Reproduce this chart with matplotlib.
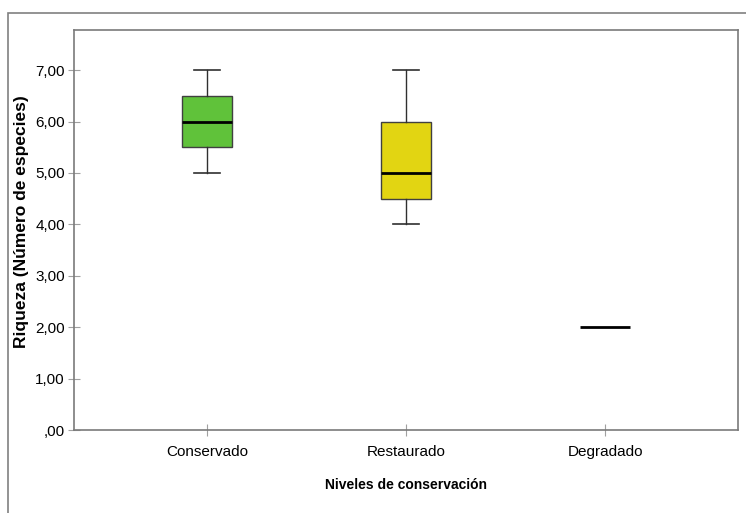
import matplotlib
matplotlib.use("Agg")
import matplotlib.pyplot as plt
from matplotlib.patches import Rectangle

plt.rcParams['font.family'] = ['Liberation Sans', 'DejaVu Sans']

categories = ["Conservado", "Restaurado", "Degradado"]
whislo = [5.0, 4.0, 2.0]
q1 = [5.5, 4.5, 2.0]
medians = [6.0, 5.0, 2.0]
q3 = [6.5, 6.0, 2.0]
whishi = [7.0, 7.0, 2.0]
colors = ["#60C23A", "#E2D512", "#FFFFFF"]
yticks = [0, 1, 2, 3, 4, 5, 6, 7]
ytick_labels = [",00", "1,00", "2,00", "3,00", "4,00", "5,00", "6,00", "7,00"]

W, H = 746, 513
fig = plt.figure(figsize=(W / 100, H / 100), dpi=100)
ax = fig.add_axes([74 / W, 1 - 430 / H, (738 - 74) / W, (430 - 30) / H])

# outer frame
fig.patches.append(Rectangle((8 / W, -0.1), 1.2, 1 - 13 / H + 0.1,
                             transform=fig.transFigure, fill=False,
                             edgecolor="#808080", linewidth=1.2))

stats = []
for i, c in enumerate(categories):
    stats.append(dict(label=c, whislo=whislo[i], q1=q1[i], med=medians[i],
                      q3=q3[i], whishi=whishi[i], fliers=[]))

positions = [1, 2, 3]
bp = ax.bxp(stats, positions=positions, widths=0.25, patch_artist=True,
            showfliers=False, capwidths=0.13,
            boxprops=dict(edgecolor="#404040", linewidth=1.0),
            whiskerprops=dict(color="#303030", linewidth=1.0),
            capprops=dict(color="#303030", linewidth=1.2),
            medianprops=dict(color="black", linewidth=2.0))
for patch, col in zip(bp['boxes'], colors):
    patch.set_facecolor(col)

# Degradado collapsed box: draw as single line only
bp['boxes'][2].set_visible(False)
for art in (bp['whiskers'][4], bp['whiskers'][5], bp['caps'][4], bp['caps'][5]):
    art.set_visible(False)

ax.set_xlim(1 - 2 / 3, 3 + 2 / 3)
ax.set_ylim(0, 7.78)
ax.set_yticks(yticks)
ax.set_yticklabels(ytick_labels)
ax.set_xticks(positions)
ax.set_xticklabels(categories)
ax.tick_params(axis='both', direction='inout', length=9, width=0.8,
               color="#a0a0a0", labelsize=11, labelcolor="black", pad=2)
ax.tick_params(axis='x', pad=6)

for s in ax.spines.values():
    s.set_color("#7a7a7a")
    s.set_linewidth(1.2)

ax.set_xlabel("Niveles de conservación", fontsize=10, fontweight='bold', labelpad=14)
ax.set_ylabel("Riqueza (Número de especies)", fontsize=12.5, fontweight='bold')
ax.yaxis.set_label_coords((29 - 74) / 664, (430 - 222) / 400)

fig.savefig("out.png", dpi=100)
